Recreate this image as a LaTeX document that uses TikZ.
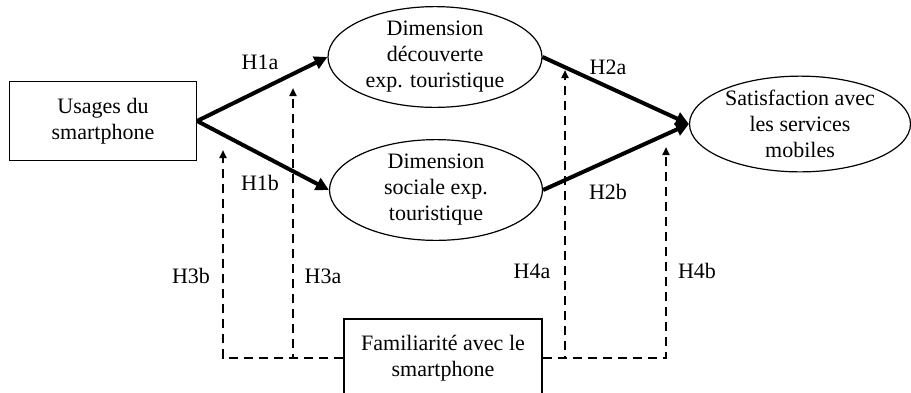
\documentclass[tikz,border=0pt]{standalone}
\usepackage{fontspec}
\setmainfont{Liberation Serif}
\usetikzlibrary{arrows.meta,shapes.geometric}
\begin{document}
\begin{tikzpicture}[x=1pt,y=-1pt,
    font=\fontsize{22}{26}\selectfont,
    construit/.style={draw, ellipse, align=center, inner sep=0pt, line width=1.2pt},
    bloc/.style={draw, rectangle, align=center, inner sep=0pt, line width=1.2pt},
    lien/.style={line width=4pt, -{Triangle[length=13pt,width=13pt]}},
    modere/.style={line width=2.6pt, dash pattern=on 9pt off 6pt, -{Triangle[length=8pt,width=7pt]}}]
    \useasboundingbox (0,0) rectangle (911,392); % keep the margins
    \def\yb{358} % height of the dashed base line

    % the constructs
    \node [bloc, minimum width=187, minimum height=79] (usg) at (103,121) {Usages du\\smartphone};
    \node [construit, minimum width=214, minimum height=88] (dec) at (435,57) {Dimension\\découverte\\exp. touristique};
    \node [construit, minimum width=213, minimum height=86] (soc) at (436,190) {Dimension\\sociale exp.\\touristique};
    \node [construit, minimum width=221, minimum height=89] (sat) at (800,124) {Satisfaction avec\\les services\\mobiles};
    \node [bloc, minimum width=198, minimum height=78] (fam) at (443,\yb) {Familiarité avec le\\smartphone};

    % direct effects
    \draw [lien] (usg.east) -- (dec.west);
    \draw [lien] (usg.east) -- (soc.west);
    \draw [lien] (dec.east) -- (sat.west);
    \draw [lien] (soc.east) -- (sat.west);

    % moderation targets
    \coordinate (m3b) at (223,150);
    \coordinate (m3a) at (293,88);
    \coordinate (m4a) at (565,70);
    \coordinate (m4b) at (666,147);

    \draw [modere] (fam.west) -| (m3b);
    \draw [modere] (fam.west) -| (m3a);
    \draw [modere] (fam.east) -| (m4a);
    \draw [modere] (fam.east) -| (m4b);

    % hypotheses
    \node (h1a) at (260,62) {H1a};
    \node (h1b) at (260,183) {H1b};
    \node (h2a) at (608,67) {H2a};
    \node (h2b) at (608,192) {H2b};
    \node (h3b) at (191,276) {H3b};
    \node (h3a) at (323,276) {H3a};
    \node (h4a) at (532,271) {H4a};
    \node (h4b) at (697,271) {H4b};
\end{tikzpicture}
\end{document}
